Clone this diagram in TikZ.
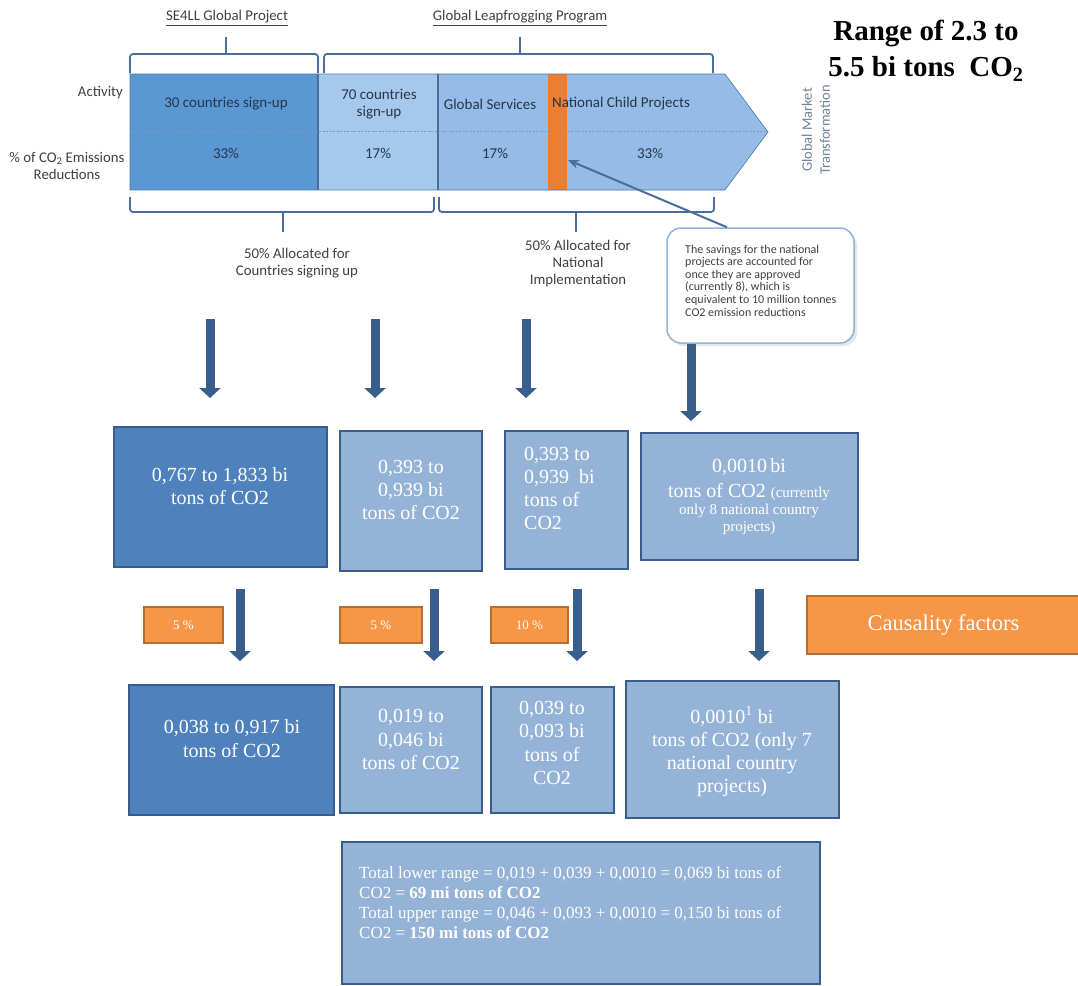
\documentclass[tikz,border=0pt]{standalone}
\usepackage{fontspec}
\setmainfont{Liberation Serif}
\newfontfamily\calfont{Carlito}
\usetikzlibrary{arrows.meta}
\definecolor{dkbox}{HTML}{4F81BD}
\definecolor{ltbox}{HTML}{95B3D7}
\definecolor{bord}{HTML}{385D8A}
\definecolor{orng}{HTML}{F79646}
\definecolor{orngb}{HTML}{B66D31}
\definecolor{arrc}{HTML}{3A5E8C}
\definecolor{segA}{HTML}{5B97D3}
\definecolor{segB}{HTML}{A6C8EC}
\definecolor{segC}{HTML}{94BCE6}
\definecolor{brc}{HTML}{4A6E99}
\definecolor{bandtxt}{HTML}{26364D}
\definecolor{lblc}{HTML}{404040}
\definecolor{ncpc}{HTML}{ED7D31}
\definecolor{calloutb}{HTML}{8FB3DA}
\definecolor{gmtc}{HTML}{6F829B}
\tikzset{
  dkboxs/.style={draw=bord, fill=dkbox, line width=1.5pt, inner sep=0pt},
  ltboxs/.style={draw=bord, fill=ltbox, line width=1.5pt, inner sep=0pt},
  orbox/.style={draw=orngb, fill=orng, line width=1.2pt, inner sep=0pt, text=white},
  btxt/.style={text=white, align=center, inner sep=0pt, font=\fontsize{20}{23}\selectfont},
  blk/.style={line width=9pt, draw=arrc, -{Triangle[width=21pt,length=10pt]}},
  bracesty/.style={draw=brc, line width=1.8pt, rounded corners=3pt},
  tickln/.style={draw=brc, line width=1.8pt},
  bandlbl/.style={text=bandtxt, align=center, inner sep=0pt, font=\calfont\fontsize{15}{17.5}\selectfont},
  sidelbl/.style={text=lblc, align=center, inner sep=0pt, font=\calfont\fontsize{14.8}{17}\selectfont},
}
\begin{document}
\begin{tikzpicture}[x=1pt,y=-1pt]
\useasboundingbox (0,0) rectangle (1078,985);
\fill[white] (0,0) rectangle (1078,985);

% ---------- band ----------
\fill[segA] (130,74) rectangle (318,190);
\fill[segB] (318,74) rectangle (438,190);
\fill[segC] (438,74) -- (725,74) -- (768,132) -- (725,190) -- (438,190) -- cycle;
\node[fill=ncpc, minimum width=19pt, minimum height=116pt, inner sep=0pt] (ncpbar) at (557.5,132) {};
\draw[draw=segA!80!black, line width=0.6pt] (130,74) -- (725,74) -- (768,132) -- (725,190) -- (130,190) -- cycle;
\draw[brc, line width=1.6pt] (318,74) -- (318,190);
\draw[brc, line width=1.6pt] (438,74) -- (438,190);
\draw[draw=brc!70, line width=1pt, dash pattern=on 2pt off 1.5pt] (130,131) -- (767,131);

% braces
\draw[bracesty] (130,73) -- (130,54) -- (318,54) -- (318,73);
\draw[tickln] (226,54) -- (226,37);
\draw[bracesty] (324,73) -- (324,54) -- (713,54) -- (713,73);
\draw[tickln] (520,54) -- (520,37);
\draw[bracesty] (130,197) -- (130,212) -- (434,212) -- (434,197);
\draw[tickln] (283,212) -- (283,232);
\draw[bracesty] (439,197) -- (439,212) -- (714,212) -- (714,197);
\draw[tickln] (576,212) -- (576,232);

% headers
\node[sidelbl] (h1) at (227,18) {\underline{SE4LL Global Project}};
\node[sidelbl] (h2) at (520,18) {\underline{Global Leapfrogging Program}};
\node[sidelbl, anchor=east] (act) at (123,93) {Activity};
\node[sidelbl] (pct) at (67,165.5) {\% of CO\textsubscript{2} Emissions\\Reductions};

% band texts
\node[bandlbl] (b1a) at (226,104) {30 countries sign-up};
\node[bandlbl] (b1b) at (226,153) {33\%};
\node[bandlbl] (b2a) at (379,104) {70 countries\\sign-up};
\node[bandlbl] (b2b) at (378,153) {17\%};
\node[bandlbl] (b3a) at (490,104) {Global Services};
\node[bandlbl] (b3b) at (495,153) {17\%};
\node[bandlbl] (b4a) at (621,104) {National Child Projects};
\node[bandlbl] (b4b) at (650,153) {33\%};
\node[sidelbl, text=gmtc, rotate=90, font=\calfont\fontsize{14.5}{18}\selectfont] (gmt) at (816,130) {Global Market\\Transformation};

% allocation labels
\node[sidelbl] (al1) at (297,263.5) {50\% Allocated for\\Countries signing up};
\node[sidelbl] (al2) at (578,264) {50\% Allocated for\\National\\Implementation};

% callout
\fill[gray!40, opacity=0.5, rounded corners=14pt] (670,231) rectangle (857,346);
\node[draw=calloutb, fill=white, line width=1.5pt, rounded corners=14pt, minimum width=187pt, minimum height=115pt, inner sep=0pt] (callout) at (760.5,285.5) {};
\node[anchor=west, align=left, inner sep=0pt, text=lblc, font=\calfont\fontsize{12}{12.6}\selectfont] (calltxt) at (685,280.5) {The savings for the national\\projects are accounted for\\once they are approved\\(currently 8), which is\\equivalent to 10 million tonnes\\CO2 emission reductions};
\coordinate (ptend) at (568,160);
\draw[brc, line width=2pt, -{Stealth[length=11pt,width=9pt]}] ([xshift=-33.5pt]callout.north) -- (ptend);

% title
\node[align=center, inner sep=0pt, font=\bfseries\fontsize{29}{36}\selectfont] (title) at (926,51) {Range of 2.3 to\\5.5 bi tons\ \ CO\textsubscript{2}};

% ---------- row 1 boxes ----------
\node[dkboxs, minimum width=213pt, minimum height=140pt] (A) at (220.5,497) {};
\node[ltboxs, minimum width=142pt, minimum height=140pt] (B) at (411,501) {};
\node[ltboxs, minimum width=123pt, minimum height=138pt] (C) at (566.5,500) {};
\node[ltboxs, minimum width=217pt, minimum height=127pt] (D) at (749.5,496.5) {};
\node[btxt] (tA) at (220,486.5) {0,767 to 1,833 bi\\tons of CO2};
\node[btxt] (tB) at (411,490) {0,393 to\\0,939 bi\\tons of CO2};
\node[btxt, align=left, anchor=west] (tC) at (524,488.5) {0,393 to\\0,939\ \ bi\\tons of\\CO2};
\node[btxt, font=\fontsize{20}{25}\selectfont] (tD1) at (749,479.5) {0,0010\,bi\\tons of CO2 {\fontsize{15}{15}\selectfont(currently}};
\node[btxt, font=\fontsize{15}{17}\selectfont] (tD2) at (749,519.5) {only 8 national country\\projects)};

% row 1 arrows
\coordinate (s1) at (210,319); \coordinate (e1) at (210,398);
\coordinate (s2) at (375,319); \coordinate (e2) at (375,398);
\coordinate (s3) at (526,319); \coordinate (e3) at (526,398);
\coordinate (e4) at (691,421);
\draw[blk] (s1) -- (e1);
\draw[blk] (s2) -- (e2);
\draw[blk] (s3) -- (e3);
\draw[blk] (callout.south -| e4) -- (e4);

% ---------- causality ----------
\node[orbox, minimum width=79pt, minimum height=36pt, font=\fontsize{13}{14}\selectfont] (o1) at (183.5,625) {5 \%};
\node[orbox, minimum width=82pt, minimum height=36pt, font=\fontsize{13}{14}\selectfont] (o2) at (381,625) {5 \%};
\node[orbox, minimum width=77pt, minimum height=36pt, font=\fontsize{13}{14}\selectfont] (o3) at (529.5,625) {10 \%};
\node[orbox, minimum width=273pt, minimum height=58pt, font=\fontsize{22.5}{24}\selectfont] (cf) at (943.5,625) {Causality factors};

% row 2 arrows
\coordinate (s5) at (240,589); \coordinate (e5) at (240,661);
\coordinate (s6) at (434,589); \coordinate (e6) at (434,661);
\coordinate (s7) at (577,589); \coordinate (e7) at (577,661);
\coordinate (s8) at (759,589); \coordinate (e8) at (759,661);
\draw[blk] (s5) -- (e5);
\draw[blk] (s6) -- (e6);
\draw[blk] (s7) -- (e7);
\draw[blk] (s8) -- (e8);

% ---------- row 2 boxes ----------
\node[dkboxs, minimum width=205pt, minimum height=130pt] (A2) at (231.5,750) {};
\node[ltboxs, minimum width=142pt, minimum height=126pt] (B2) at (411,750) {};
\node[ltboxs, minimum width=123pt, minimum height=126pt] (C2) at (552.5,750) {};
\node[ltboxs, minimum width=213pt, minimum height=137pt] (D2) at (732.5,749.5) {};
\node[btxt, font=\fontsize{20}{24}\selectfont] (tA2) at (232,739) {0,038 to 0,917 bi\\tons of CO2};
\node[btxt, font=\fontsize{20}{23.5}\selectfont] (tB2) at (411,739.5) {0,019 to\\0,046 bi\\tons of CO2};
\node[btxt, font=\fontsize{20}{23.3}\selectfont] (tC2) at (552,743) {0,039 to\\0,093 bi\\tons of\\CO2};
\node[btxt] (tD2b) at (732,751.5) {0,0010\textsuperscript{1} bi\\tons of CO2 (only 7\\national country\\projects)};

% ---------- total ----------
\node[ltboxs, minimum width=478pt, minimum height=142pt] (tot) at (581,913) {};
\node[text=white, align=left, anchor=west, inner sep=0pt, font=\fontsize{17}{20}\selectfont] (tott) at (359,903) {Total lower range = 0,019 + 0,039 + 0,0010 = 0,069 bi tons of\\CO2 = \textbf{69 mi tons of CO2}\\Total upper range = 0,046 + 0,093 + 0,0010 = 0,150 bi tons of\\CO2 = \textbf{150 mi tons of CO2}};
\end{tikzpicture}
\end{document}
